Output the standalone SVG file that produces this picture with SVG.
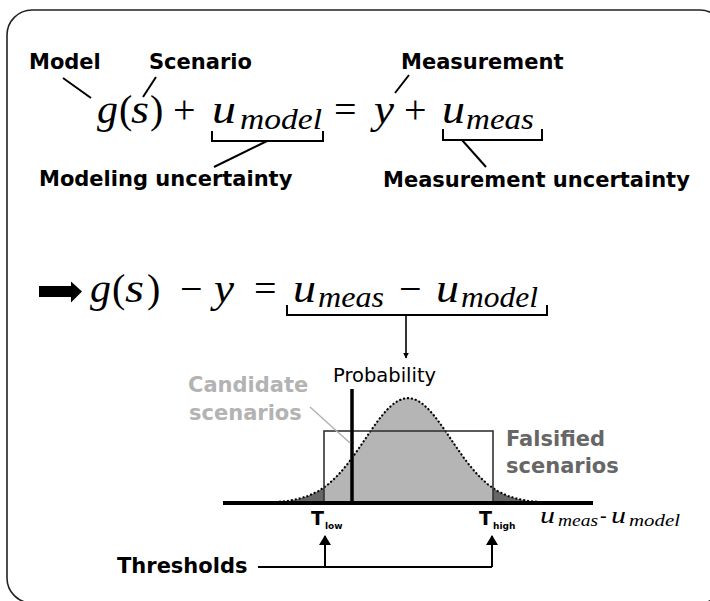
<svg xmlns="http://www.w3.org/2000/svg" width="710" height="601" viewBox="0 0 710 601">
<defs>
<style>
.lbl{font-family:"DejaVu Sans",Verdana,sans-serif;font-weight:bold;font-size:21px;fill:#000}
.m{font-family:"Liberation Serif","Times New Roman",serif;font-style:italic;fill:#000}
.op{font-family:"Liberation Serif","Times New Roman",serif;fill:#000}
.ln{stroke:#000;stroke-width:2;fill:none}
</style>
<marker id="ah" viewBox="0 0 10 10" refX="9" refY="5" markerWidth="6" markerHeight="6" orient="auto" markerUnits="userSpaceOnUse">
<path d="M0,0 L10,5 L0,10 Z" fill="#000"/>
</marker>
<marker id="ah2" viewBox="0 0 10 12" refX="9" refY="6" markerWidth="13" markerHeight="12" orient="auto" markerUnits="userSpaceOnUse">
<path d="M0,0 L10,6 L0,12 Z" fill="#000"/>
</marker>
<path id="gauss" d="M223,503 L248,502.9 L268,502.5 L278,501.9 L288,500.9 L298,499 L308,496 L318,491.3 L324,487.4 L328,484.4 L333,480.1 L338,475.1 L343,469.5 L348,463.3 L353,456.7 L358,449.6 L363,442.3 L368,434.9 L373,427.6 L378,420.7 L383,414.3 L388,408.8 L393,404.2 L398,400.8 L403,398.7 L408,398 L413,398.7 L418,400.8 L423,404.2 L428,408.8 L433,414.3 L438,420.7 L443,427.6 L448,434.9 L453,442.3 L458,449.6 L463,456.7 L468,463.3 L473,469.5 L478,475.1 L483,480.1 L488,484.4 L493,488.1 L498,491.3 L508,496 L518,499 L528,500.9 L538,501.9 L548,502.5 L568,502.9 L593,503"/>
<clipPath id="mid"><rect x="324" y="380" width="169" height="130"/></clipPath>
</defs>

<rect id="frame" x="7" y="10" width="718" height="593" rx="25" ry="25" fill="#fff" stroke="#222" stroke-width="1.6"/>

<g id="eq1">
<text class="m" font-size="40" x="97" y="123" textLength="21" lengthAdjust="spacingAndGlyphs">g</text>
<text class="op" font-size="40" x="119" y="123">(</text>
<text class="m" font-size="40" x="131" y="123" textLength="18" lengthAdjust="spacingAndGlyphs">s</text>
<text class="op" font-size="40" x="150" y="123">)</text>
<text class="op" font-size="40" x="173" y="123">+</text>
<text class="m" font-size="40" x="212" y="123" textLength="24" lengthAdjust="spacingAndGlyphs">u</text>
<text class="m" font-size="29" x="240" y="129" textLength="82" lengthAdjust="spacingAndGlyphs">model</text>
<text class="op" font-size="40" x="334" y="123">=</text>
<text class="m" font-size="40" x="374" y="123" textLength="20" lengthAdjust="spacingAndGlyphs">y</text>
<text class="op" font-size="40" x="404" y="123">+</text>
<text class="m" font-size="40" x="442" y="123" textLength="23" lengthAdjust="spacingAndGlyphs">u</text>
<text class="m" font-size="29" x="466" y="129" textLength="68" lengthAdjust="spacingAndGlyphs">meas</text>
</g>

<g id="label-model"><text class="lbl" x="29" y="69">Model</text></g>
<g id="label-scenario"><text class="lbl" x="149" y="69">Scenario</text></g>
<g id="label-measurement"><text class="lbl" x="401" y="69">Measurement</text></g>
<g id="label-modeling-unc"><text class="lbl" x="39" y="186">Modeling uncertainty</text></g>
<g id="label-meas-unc"><text class="lbl" x="383" y="187">Measurement uncertainty</text></g>

<g id="eq2">
<path d="M39,286 L71,286 L71,281.5 L82,291.5 L71,302.5 L71,297 L39,297 Z" fill="#000"/>
<text class="m" font-size="40" x="90" y="302" textLength="21" lengthAdjust="spacingAndGlyphs">g</text>
<text class="op" font-size="40" x="112" y="302">(</text>
<text class="m" font-size="40" x="125" y="302" textLength="19" lengthAdjust="spacingAndGlyphs">s</text>
<text class="op" font-size="40" x="147" y="302">)</text>
<text class="op" font-size="40" x="180" y="302">−</text>
<text class="m" font-size="40" x="214" y="302" textLength="20" lengthAdjust="spacingAndGlyphs">y</text>
<text class="op" font-size="40" x="254" y="302">=</text>
<text class="m" font-size="40" x="293" y="302" textLength="23" lengthAdjust="spacingAndGlyphs">u</text>
<text class="m" font-size="29" x="318" y="307" textLength="66" lengthAdjust="spacingAndGlyphs">meas</text>
<text class="op" font-size="40" x="399" y="302">−</text>
<text class="m" font-size="40" x="436" y="302" textLength="23" lengthAdjust="spacingAndGlyphs">u</text>
<text class="m" font-size="29" x="461" y="307" textLength="77" lengthAdjust="spacingAndGlyphs">model</text>
</g>

<g id="plot">
<use href="#gauss" fill="#666"/>
<use href="#gauss" fill="#b5b5b5" clip-path="url(#mid)"/>
<use href="#gauss" fill="none" stroke="#000" stroke-width="2" stroke-dasharray="2 2"/>
<rect x="324" y="431" width="169" height="72" fill="none" stroke="#333" stroke-width="1.6"/>
<line x1="352" y1="389" x2="352" y2="503" stroke="#000" stroke-width="3.5"/>
<line x1="223" y1="503" x2="593" y2="503" stroke="#000" stroke-width="4"/>
<text x="333" y="382" font-family="DejaVu Sans,Verdana,sans-serif" font-size="19.5" fill="#000">Probability</text>
<text class="m" font-size="24" x="540" y="523" textLength="15" lengthAdjust="spacingAndGlyphs">u</text>
<text class="m" font-size="17" x="558" y="526" textLength="40" lengthAdjust="spacingAndGlyphs">meas</text>
<text class="op" font-size="20" x="600" y="522">-</text>
<text class="m" font-size="24" x="611" y="523" textLength="15" lengthAdjust="spacingAndGlyphs">u</text>
<text class="m" font-size="17" x="629" y="526" textLength="51" lengthAdjust="spacingAndGlyphs">model</text>
</g>

<g id="label-candidate">
<text class="lbl" x="188" y="392" style="fill:#b3b3b3">Candidate</text>
<text class="lbl" x="189" y="420" style="fill:#b3b3b3">scenarios</text>
</g>
<g id="label-falsified">
<text class="lbl" x="506" y="446" style="fill:#666">Falsified</text>
<text class="lbl" x="506" y="473" style="fill:#666">scenarios</text>
</g>
<g id="label-tlow"><text class="lbl" x="311" y="525" style="font-size:19px">T</text><text class="lbl" x="325" y="529" style="font-size:9px">low</text></g>
<g id="label-thigh"><text class="lbl" x="479" y="525" style="font-size:19px">T</text><text class="lbl" x="493" y="529" style="font-size:9px">high</text></g>
<g id="label-thresholds"><text class="lbl" x="117" y="573">Thresholds</text></g>

<g id="connectors">
<line class="ln" x1="63" y1="78" x2="91" y2="98"/>
<line class="ln" x1="156" y1="77" x2="143" y2="97"/>
<line class="ln" x1="409" y1="75" x2="395" y2="93"/>
<path class="ln" d="M212,131 V141 H323 V131"/>
<line class="ln" x1="267" y1="141" x2="214" y2="167"/>
<path class="ln" d="M443,129 V140 H542 V129"/>
<line class="ln" x1="462" y1="140" x2="486" y2="167"/>
<path class="ln" d="M287,305 V315 H547 V305"/>
<line x1="406" y1="315" x2="406" y2="358" stroke="#000" stroke-width="1.6" marker-end="url(#ah)"/>
<path class="ln" d="M258,567 H492"/>
<line class="ln" x1="325" y1="567" x2="325" y2="536" marker-end="url(#ah2)"/>
<line class="ln" x1="492" y1="567" x2="492" y2="536" marker-end="url(#ah2)"/>
<line x1="310" y1="407" x2="350" y2="443" stroke="#b3b3b3" stroke-width="1.5"/>
</g>
</svg>
